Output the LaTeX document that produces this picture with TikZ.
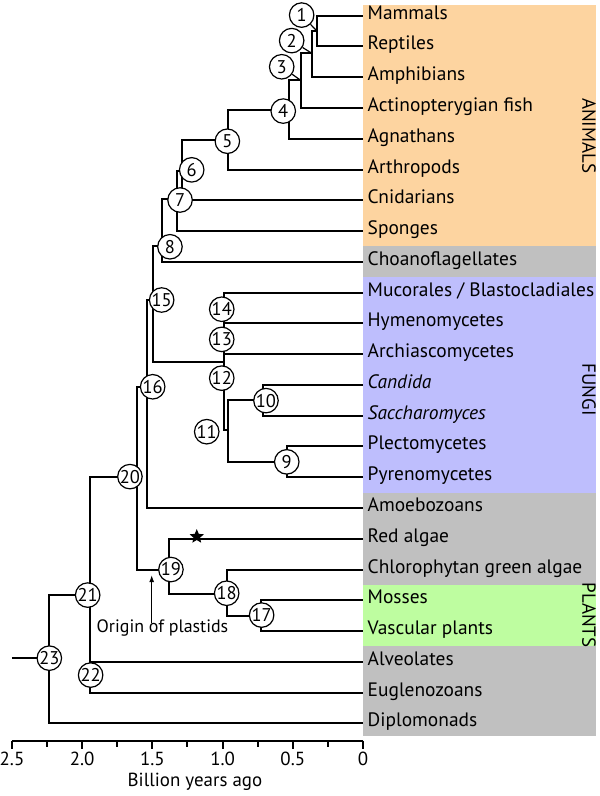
\documentclass[tikz,border=0pt]{standalone}
\usepackage{fontspec}
\setmainfont{PT Sans}
\usepackage{xcolor}
\usepackage{tikz}
\usetikzlibrary{arrows.meta, shapes.geometric}
\definecolor{animalband}{RGB}{253,212,160}
\definecolor{fungiband}{RGB}{190,190,253}
\definecolor{plantband}{RGB}{190,253,160}
\definecolor{otherband}{RGB}{192,192,192}
\tikzset{
  branch/.style={line width=2bp},
  leader/.style={line width=1.2bp},
  taxon/.style={anchor=west, inner sep=4.5bp, text height=0.7em, text depth=0pt, font=\fontsize{19.5}{21}\selectfont},
  clade/.style={circle, draw, fill=white, line width=1.2bp, minimum size=24.5bp, inner sep=0pt, font=\fontsize{18.5}{18}\selectfont},
  group/.style={rotate=-90, inner sep=0pt, text height=0.7em, text depth=0pt, font=\fontsize{19}{21}\selectfont},
  axislabel/.style={inner sep=0pt, text height=0.7em, text depth=0pt, font=\fontsize{19}{21}\selectfont},
}

\begin{document}
\begin{tikzpicture}[x={(-140.4bp,0)}, y={(0,-30.77bp)}]
          \useasboundingbox (2.5855,-0.51) rectangle (-1.688,25.36);
          % Bands
          \fill[animalband] (0,-0.35) rectangle (-1.66,7.5);
          \fill[otherband] (0,7.5) rectangle (-1.66,8.5);
          \fill[fungiband] (0,8.5) rectangle (-1.66,15.5);
          \fill[otherband] (0,15.5) rectangle (-1.66,18.5);
          \fill[plantband] (0,18.5) rectangle (-1.66,20.5);
          \fill[otherband] (0,20.5) rectangle (-1.66,23.4);
          \node[group] (animals) at (-1.588,3.9) {ANIMALS};
          \node[group] (fungi) at (-1.588,12.15) {FUNGI};
          \node[group] (plants) at (-1.588,19.48) {PLANTS};
          % Taxa
          \foreach \name/\txt [count=\r from 0] in {mammals/Mammals, reptiles/Reptiles, amphibians/Amphibians,
              actino/Actinopterygian fish, agnathans/Agnathans, arthropods/Arthropods, cnidarians/Cnidarians,
              sponges/Sponges, choano/Choanoflagellates, mucorales/{Mucorales / Blastocladiales},
              hymeno/Hymenomycetes, archi/Archiascomycetes, candida/\textit{Candida}, saccharo/\textit{Saccharomyces},
              plecto/Plectomycetes, pyreno/Pyrenomycetes, amoebo/Amoebozoans, redalgae/Red algae,
              chloro/Chlorophytan green algae, mosses/Mosses, vascular/Vascular plants, alveolates/Alveolates,
              euglen/Euglenozoans, diplo/Diplomonads}
            \node[taxon] (\name) at (0,\r) {\txt};
          % Branch points
          \coordinate (j1) at (0.33,0.49);
          \coordinate (j2) at (0.365,1.22);
          \coordinate (j3) at (0.444,2.1);
          \coordinate (j4) at (0.525,3.05);
          \coordinate (j5) at (0.964,4.05);
          \coordinate (j6) at (1.291,5.05);
          \coordinate (j7) at (1.325,5.95);
          \coordinate (j8) at (1.434,7.5);
          \coordinate (j15) at (1.493,9.24);
          \coordinate (j14) at (0.988,9.5);
          \coordinate (j13) at (0.988,10.5);
          \coordinate (j12) at (0.988,11.25);
          \coordinate (j11) at (0.958,13.46);
          \coordinate (j10) at (0.711,12.5);
          \coordinate (j9) at (0.539,14.5);
          \coordinate (j16) at (1.54,12.06);
          \coordinate (j20) at (1.608,14.98);
          \coordinate (j19) at (1.38,18.0);
          \coordinate (j18) at (0.971,18.8);
          \coordinate (j17) at (0.726,19.5);
          \coordinate (j22) at (1.945,21.45);
          \coordinate (j21) at (1.945,18.83);
          \coordinate (j23) at (2.234,20.88);
          \coordinate (root) at (2.5,20.88);
          % Animals
          \draw[branch] (mammals.west) -| (j1) |- (reptiles.west);
          \draw[branch] (j1) -| (j2) |- (amphibians.west);
          \draw[branch] (j2) -| (j3) |- (actino.west);
          \draw[branch] (j3) -| (j4) |- (agnathans.west);
          \draw[branch] (j4) -| (j5) |- (arthropods.west);
          \draw[branch] (j5) -| (j6) |- (cnidarians.west);
          \draw[branch] (j6) -| (j7) |- (sponges.west);
          \draw[branch] (j7) -| (j8) |- (choano.west);
          \draw[branch] (j8) -| (j15) |- (j12);
          % Fungi
          \draw[branch] (mucorales.west) -| (j14) |- (hymeno.west);
          \draw[branch] (j14) -| (j13) |- (archi.west);
          \draw[branch] (j13) -| (j12) |- (j11);
          \draw[branch] (j10) -| (j11) |- (j9);
          \draw[branch] (candida.west) -| (j10) |- (saccharo.west);
          \draw[branch] (plecto.west) -| (j9) |- (pyreno.west);
          % Plants and the rest
          \draw[branch] (j15) -| (j16) |- (amoebo.west);
          \draw[branch] (j16) -| (j20) |- (j19);
          \draw[branch] (redalgae.west) -| (j19) |- (j18);
          \draw[branch] (chloro.west) -| (j18) |- (j17);
          \draw[branch] (mosses.west) -| (j17) |- (vascular.west);
          \draw[branch] (j20) -| (j21) |- (j22);
          \draw[branch] (alveolates.west) -| (j22) |- (euglen.west);
          \draw[branch] (j21) -| (j23) |- (diplo.west);
          \draw[branch] (root) -- (j23);
          % Numbered nodes
          \node[clade] (c1) at (0.437,-0.02) {1};
          \node[clade] (c2) at (0.508,0.81) {2};
          \node[clade] (c3) at (0.579,1.66) {3};
          \draw[leader] (c1) -- (j1);
          \draw[leader] (c2) -- (j2);
          \draw[leader] (c3) -- (j3);
          \node[clade] (c4) at (0.568,3.1) {4};
          \node[clade] (c5) at (0.966,4.08) {5};
          \node[clade] (c6) at (1.22,5.01) {6};
          \node[clade] (c7) at (1.303,5.99) {7};
          \node[clade] (c8) at (1.375,7.51) {8};
          \node[clade] (c9) at (0.543,14.5) {9};
          \node[clade] (c10) at (0.691,12.51) {10};
          \node[clade] (c11) at (1.113,13.52) {11};
          \node[clade] (c12) at (1.006,11.78) {12};
          \node[clade] (c13) at (1.006,10.52) {13};
          \node[clade] (c14) at (1.006,9.54) {14};
          \node[clade] (c15) at (1.434,9.24) {15};
          \node[clade] (c16) at (1.498,12.06) {16};
          \node[clade] (c17) at (0.722,19.48) {17};
          \node[clade] (c18) at (0.971,18.77) {18};
          \node[clade] (c19) at (1.368,18.0) {19};
          \node[clade] (c20) at (1.66,14.98) {20};
          \node[clade] (c21) at (1.961,18.83) {21};
          \node[clade] (c22) at (1.94,21.43) {22};
          \node[clade] (c23) at (2.234,20.88) {23};
          % Origin of plastids
          \node[star, star points=5, star point ratio=2.2, fill, minimum size=15bp, inner sep=0pt] (redstar) at (1.184,16.93) {};
          \node[inner sep=2bp, text height=0.7em, text depth=0pt, font=\fontsize{18}{20}\selectfont] (plastids) at (1.428,19.93) {Origin of plastids};
          \coordinate (plastidtip) at (1.505,18.18);
          \draw[line width=1.2bp, -{Latex[length=7bp,width=5bp]}] (plastids.north -| plastidtip) -- (plastidtip);
          % Time axis
          \draw[branch] (2.5,23.56) -- (0,23.56);
          \foreach \t in {0.25,0.75,...,2.25}
            \draw[branch] (\t,23.56) -- (\t,23.76);
          \foreach \t/\l [count=\i] in {2.5/2.5, 2/2.0, 1.5/1.5, 1/1.0, 0.5/0.5, 0/0} {
            \draw[branch] (\t,23.56) -- (\t,23.82);
            \node[axislabel] (tick\i) at (\t,24.25) {\l};
          }
          \node[axislabel] (timelabel) at (1.197,24.95) {Billion years ago};
        \end{tikzpicture}
\end{document}
